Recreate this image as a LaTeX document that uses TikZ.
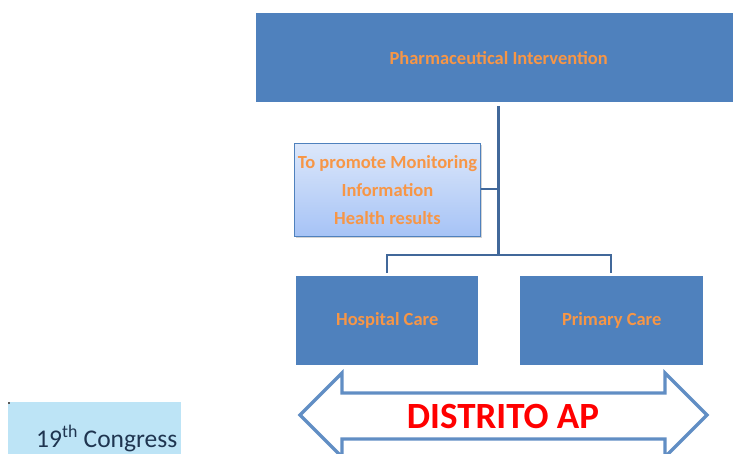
\documentclass[tikz,border=0pt]{standalone}
\usepackage{fontspec}
\setmainfont{Carlito}
\usetikzlibrary{shadows}
\definecolor{boxblue}{HTML}{4F81BD}
\definecolor{lineblue}{HTML}{41689A}
\definecolor{txtorange}{HTML}{F79646}
\definecolor{gradtop}{HTML}{DCE7FA}
\definecolor{gradbot}{HTML}{A6C3F6}
\definecolor{congressbg}{HTML}{BDE4F6}
\definecolor{congresstxt}{HTML}{1F3550}
\tikzset{
  bluebox/.style={fill=boxblue, draw=none, inner sep=0pt, font=\bfseries\fontsize{18.5}{22}\selectfont, text=txtorange},
  conn/.style={draw=lineblue, line width=2.6pt},
  infobox/.style={draw=boxblue, line width=0.8pt, top color=gradtop, bottom color=gradbot, inner sep=0pt,
    font=\bfseries\fontsize{18.5}{22}\selectfont, text=txtorange, align=center,
    drop shadow={opacity=0.35, shadow xshift=2pt, shadow yshift=-2pt}}
}
\begin{document}
\begin{tikzpicture}[x=1pt,y=-1pt]
\useasboundingbox (0,0) rectangle (733,454);
% top box
\node[bluebox, minimum width=477pt, minimum height=89pt, anchor=north west] (top) at (256,13) {\hspace*{8pt}Pharmaceutical Intervention};
% info box
\node[infobox, minimum width=186pt, minimum height=93pt, anchor=north west] (info) at (294,143)
  {To promote Monitoring\\[6pt]Information\\[6pt]Health results};
% bottom boxes
\node[bluebox, minimum width=182pt, minimum height=89pt, anchor=north west] (hosp) at (296,276) {Hospital Care};
\node[bluebox, minimum width=183pt, minimum height=89pt, anchor=north west] (prim) at (520,276) {Primary Care};
% connectors
\coordinate (vtop) at (498.5,106);
\coordinate (junc) at (498.5,255);
\coordinate (side) at (498.5,189);
\coordinate (lh) at (387,255);
\coordinate (rh) at (611,255);
\coordinate (lend) at (387,273);
\coordinate (rend) at (611,273);
\draw[conn] (vtop) -- (junc);
\draw[conn] (info.east |- side) -- (side);
\draw[conn] (lend) -- (lh) -- (rh) -- (rend);
% double arrow
\draw[draw=boxblue!90!white, line width=3.3pt, fill=white, line join=miter]
  (300,415) -- (342,373) -- (342,393) -- (665,393) -- (665,373) -- (707,415)
  -- (665,457) -- (665,439) -- (342,439) -- (342,457) -- cycle;
\node[text=red, font=\bfseries\fontsize{37}{40}\selectfont, inner sep=0pt] (distrito) at (503,416) {DISTRITO AP};
% congress label
\fill[congressbg] (8,402) rectangle (181,454);
\fill[gray!70!black] (8,402) rectangle (9.5,404);
\node[text=congresstxt, font=\fontsize{25.5}{27}\selectfont, anchor=base west, inner sep=0pt] (congress) at (36,447) {19\textsuperscript{th} Congress};
\end{tikzpicture}
\end{document}
